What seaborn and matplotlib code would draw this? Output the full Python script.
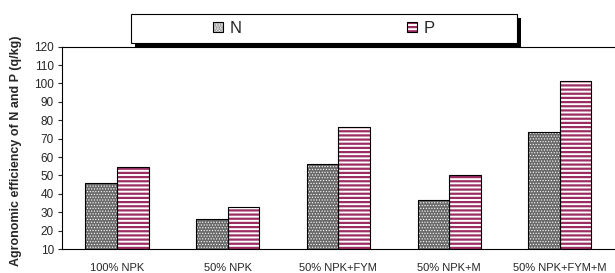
import pandas as pd
import seaborn as sns
from matplotlib import pyplot as plt
from matplotlib.patches import Patch, Rectangle

# values
categories = ['100% NPK', '50% NPK', '50% NPK+FYM', '50% NPK+M', '50% NPK+FYM+M']
series = ['N', 'P']
n_values = [45.8, 26.5, 56.0, 36.5, 73.6]
p_values = [54.6, 32.6, 76.2, 50.2, 101.3]
y_ticks = list(range(10, 121, 10))

df = pd.DataFrame({
    'Treatment': categories * 2,
    'Nutrient': ['N'] * len(n_values) + ['P'] * len(p_values),
    'AE': n_values + p_values,
})

# look of each series: face colour, hatch, hatch colour, hatch width
styles = {
    'N': dict(face='#6a6a6a', hatch='......', hcolor='white', hlw=0.5),
    'P': dict(face='white', hatch='----', hcolor='#9b2d62', hlw=1.6),
}

sns.set_style('white')
plt.rcParams['font.family'] = ['Liberation Sans', 'DejaVu Sans']
plt.rcParams['hatch.linewidth'] = 1.6

fig = plt.figure(figsize=(6.15, 2.73), dpi=100)
ax = fig.add_axes([0.1003, 0.0879, 0.9, 0.741])

sns.barplot(data=df, x='Treatment', y='AE', hue='Nutrient', hue_order=series,
            palette=['#6a6a6a', 'white'], saturation=1, width=0.57, gap=0,
            legend=False, ax=ax)

for cont, name in zip(ax.containers, series):
    st = styles[name]
    for bar in cont:
        bar.set_facecolor(st['face'])
        bar.set_hatch(st['hatch'])
        bar.set_edgecolor(st['hcolor'])
        bar.set_linewidth(0)
        if hasattr(bar, 'set_hatch_linewidth'):
            bar.set_hatch_linewidth(st['hlw'])
        ax.add_patch(Rectangle(bar.get_xy(), bar.get_width(), bar.get_height(),
                               fill=False, edgecolor='black', lw=0.8,
                               zorder=bar.get_zorder() + 0.1))

ax.set_xlim(-0.5, 4.5)
ax.set_ylim(10, 120)
ax.set_yticks(y_ticks)
ax.set_xlabel('')
ax.set_ylabel('Agronomic efficiency of N and P (q/kg)', fontsize=9, fontweight='bold')
ax.yaxis.set_label_coords(-0.072, 0.487)
ax.tick_params(axis='y', direction='out', length=3, width=0.8, labelsize=8.5, pad=2.5, left=True)
ax.tick_params(axis='x', length=0, labelsize=8, pad=10)
for side in ['left', 'bottom', 'top']:
    ax.spines[side].set_color('black')
    ax.spines[side].set_linewidth(0.8)
ax.spines['right'].set_visible(False)

# legend box with a solid shadow, like the original
W, H = 615, 273
fig.patches.append(Rectangle((135 / W, 1 - 47 / H), 386 / W, 29 / H, transform=fig.transFigure,
                             facecolor='black', edgecolor='none', zorder=1))
fig.patches.append(Rectangle((131 / W, 1 - 43 / H), 386 / W, 29 / H, transform=fig.transFigure,
                             facecolor='white', edgecolor='black', lw=0.8, zorder=2))

handles = []
for name in series:
    st = styles[name]
    hp = Patch(facecolor=st['face'], hatch=st['hatch'], edgecolor=st['hcolor'], lw=0)
    if hasattr(hp, 'set_hatch_linewidth'):
        hp.set_hatch_linewidth(st['hlw'])
    handles.append((hp, Patch(fill=False, edgecolor='black', lw=0.8)))

leg = fig.legend(handles, series, loc='center', bbox_to_anchor=(324 / W, 1 - 28.5 / H),
                 ncol=2, frameon=False, fontsize=12, handlelength=0.6, handleheight=0.6,
                 handletextpad=0.42, columnspacing=9.9)
leg.set_zorder(5)

plt.savefig('out.png', dpi=100)
